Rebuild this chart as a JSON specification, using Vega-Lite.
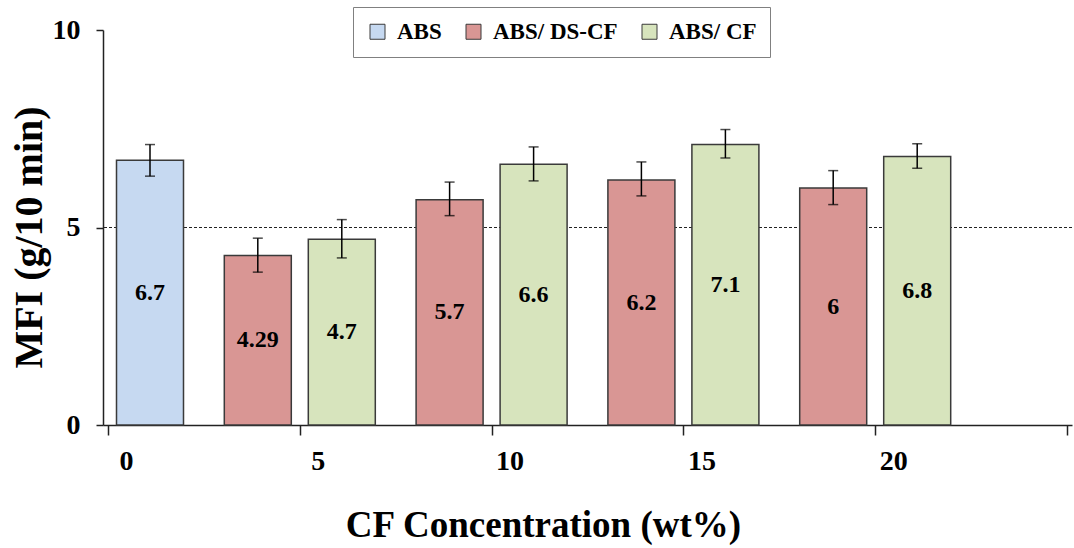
{
  "$schema": "https://vega.github.io/schema/vega-lite/v6.json",
  "width": 969,
  "height": 395,
  "autosize": "none",
  "padding": {"left": 103, "top": 30, "right": 2, "bottom": 123},
  "background": "white",
  "config": {"font": "Liberation Serif", "view": {"stroke": null}},
  "data": {"values": [
    {"cf": 0, "series": "ABS", "mfi": 6.7, "lo": 6.3, "hi": 7.1},
    {"cf": 5, "series": "ABS/ DS-CF", "mfi": 4.29, "lo": 3.87, "hi": 4.73},
    {"cf": 5, "series": "ABS/ CF", "mfi": 4.7, "lo": 4.23, "hi": 5.2},
    {"cf": 10, "series": "ABS/ DS-CF", "mfi": 5.7, "lo": 5.3, "hi": 6.15},
    {"cf": 10, "series": "ABS/ CF", "mfi": 6.6, "lo": 6.18, "hi": 7.04},
    {"cf": 15, "series": "ABS/ DS-CF", "mfi": 6.2, "lo": 5.8, "hi": 6.66},
    {"cf": 15, "series": "ABS/ CF", "mfi": 7.1, "lo": 6.76, "hi": 7.48},
    {"cf": 20, "series": "ABS/ DS-CF", "mfi": 6.0, "lo": 5.58, "hi": 6.44},
    {"cf": 20, "series": "ABS/ CF", "mfi": 6.8, "lo": 6.5, "hi": 7.12}
  ]},
  "transform": [{"calculate": "datum.mfi / 2", "as": "mid"}],
  "layer": [
    {
      "mark": {"type": "rule", "strokeDash": [3, 2], "color": "#222", "strokeWidth": 1},
      "encoding": {"y": {"datum": 5, "type": "quantitative", "scale": {"domain": [0, 10], "nice": false}}}
    },
    {
      "transform": [{"filter": "datum.series !== 'ABS/ DS-CF'"}],
      "encoding": {"x": {"field": "cf", "type": "quantitative", "scale": {"domain": [0, 25], "nice": false, "zero": false},
        "axis": {"values": [0, 5, 10, 15, 20, 25], "labelExpr": "datum.value == 25 ? '' : datum.label", "grid": false,
          "tickSize": 10, "tickColor": "#222", "tickWidth": 1.5, "domainColor": "#222", "domainWidth": 1.5,
          "labelFontSize": 28, "labelFontWeight": "bold", "labelColor": "black", "labelPadding": 12, "labelOffset": 18,
          "title": "CF Concentration (wt%)", "titleFontSize": 37, "titleFontWeight": "bold", "titleColor": "black",
          "titleX": 440, "titleY": 100, "titleBaseline": "middle", "titleAlign": "center"}}},
      "layer": [
        {"mark": {"type": "bar", "width": 67, "xOffset": 42, "stroke": "#3a3a3a", "strokeWidth": 1.5},
         "encoding": {
          "y": {"field": "mfi", "type": "quantitative", "title": "MFI (g/10 min)",
            "axis": {"values": [0, 5, 10], "grid": false, "tickSize": 7, "tickColor": "#222", "tickWidth": 1.5, "domainColor": "#222", "domainWidth": 1.5,
              "labelFontSize": 28, "labelFontWeight": "bold", "labelColor": "black", "labelPadding": 16,
              "titleFontSize": 40, "titleFontWeight": "bold", "titleColor": "black", "titleX": -74, "titleY": 207, "titleBaseline": "middle", "titleAlign": "center", "titleAngle": 270}},
          "color": {"field": "series", "type": "nominal",
            "scale": {"domain": ["ABS", "ABS/ DS-CF", "ABS/ CF"], "range": ["#C6D9F1", "#D99694", "#D7E4BD"]},
            "legend": {"title": null, "orient": "none", "legendX": 250, "legendY": -23, "direction": "horizontal",
              "strokeColor": "#808080", "fillColor": "white", "padding": 13, "symbolType": "square", "symbolSize": 225,
              "symbolStrokeColor": "#555", "symbolStrokeWidth": 1, "labelFontSize": 23, "labelFontWeight": "bold", "labelColor": "black",
              "labelOffset": 8, "columnPadding": 20}}
         }},
        {"mark": {"type": "rule", "xOffset": 42, "color": "black", "strokeWidth": 1.5},
         "encoding": {"y": {"field": "lo", "type": "quantitative", "title": "MFI (g/10 min)"}, "y2": {"field": "hi"}}},
        {"mark": {"type": "tick", "orient": "horizontal", "xOffset": 42, "size": 10, "thickness": 1.5, "color": "black"},
         "encoding": {"y": {"field": "hi", "type": "quantitative", "title": "MFI (g/10 min)"}}},
        {"mark": {"type": "tick", "orient": "horizontal", "xOffset": 42, "size": 10, "thickness": 1.5, "color": "black"},
         "encoding": {"y": {"field": "lo", "type": "quantitative", "title": "MFI (g/10 min)"}}},
        {"mark": {"type": "text", "xOffset": 42, "fontSize": 24, "fontWeight": "bold", "color": "black"},
         "encoding": {"y": {"field": "mid", "type": "quantitative", "title": "MFI (g/10 min)"}, "text": {"field": "mfi", "type": "nominal"}}}
      ]
    },
    {
      "transform": [{"filter": "datum.series === 'ABS/ DS-CF'"}],
      "encoding": {"x": {"field": "cf", "type": "quantitative"}},
      "layer": [
        {"mark": {"type": "bar", "width": 67, "xOffset": -42, "stroke": "#3a3a3a", "strokeWidth": 1.5},
         "encoding": {"y": {"field": "mfi", "type": "quantitative", "title": "MFI (g/10 min)"}, "color": {"field": "series", "type": "nominal"}}},
        {"mark": {"type": "rule", "xOffset": -42, "color": "black", "strokeWidth": 1.5},
         "encoding": {"y": {"field": "lo", "type": "quantitative", "title": "MFI (g/10 min)"}, "y2": {"field": "hi"}}},
        {"mark": {"type": "tick", "orient": "horizontal", "xOffset": -42, "size": 10, "thickness": 1.5, "color": "black"},
         "encoding": {"y": {"field": "hi", "type": "quantitative", "title": "MFI (g/10 min)"}}},
        {"mark": {"type": "tick", "orient": "horizontal", "xOffset": -42, "size": 10, "thickness": 1.5, "color": "black"},
         "encoding": {"y": {"field": "lo", "type": "quantitative", "title": "MFI (g/10 min)"}}},
        {"mark": {"type": "text", "xOffset": -42, "fontSize": 24, "fontWeight": "bold", "color": "black"},
         "encoding": {"y": {"field": "mid", "type": "quantitative", "title": "MFI (g/10 min)"}, "text": {"field": "mfi", "type": "nominal"}}}
      ]
    }
  ]
}
